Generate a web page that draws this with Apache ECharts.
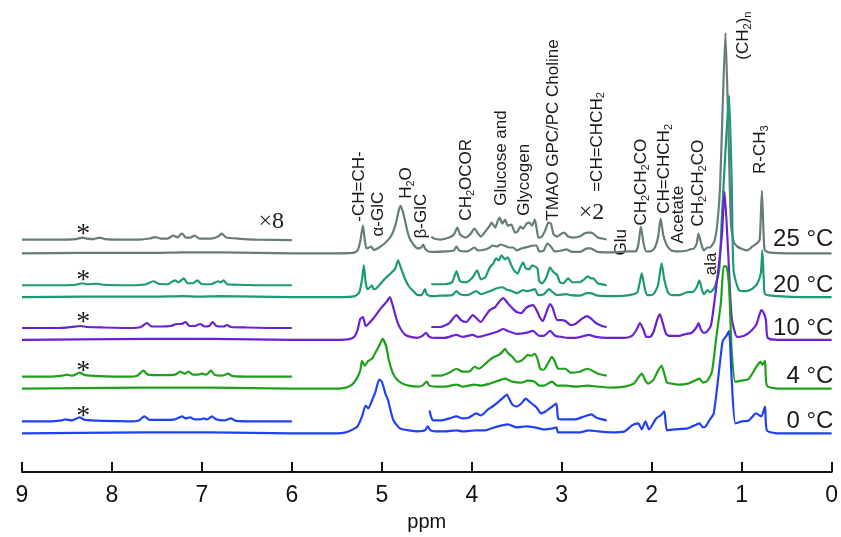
<!DOCTYPE html>
<html>
<head>
<meta charset="utf-8">
<script src="https://cdn.jsdelivr.net/npm/echarts@6/dist/echarts.min.js"></script>
<style>
html, body { margin: 0; padding: 0; background: #fff; }
#nmr { width: 841px; height: 537px; }
</style>
</head>
<body>
<div id="nmr"></div>
<script>
// temperatures, top to bottom
var temps = ['25 °C', '20 °C', '10 °C', '4 °C', '0 °C'];

// main spectra, [ppm, intensity]
var main25 = [[9,0],[8.33,0.5],[7.5,0.5],[7.22,1],[6.78,1],[6.0,0],[5.6,0],[5.32,0.5],[5.27,3],[5.24,12],[5.21,28],[5.19,14],[5.17,5],[5.14,6],[5.12,7],[5.09,3.5],[5.03,6],[4.97,10],[4.9,17],[4.85,28],[4.81,44],[4.79,48],[4.76,40],[4.72,24],[4.69,15],[4.64,8],[4.6,5],[4.56,6],[4.54,9],[4.52,5],[4.48,2],[4.4,1.5],[4.3,2],[4.2,3],[4.17,7],[4.14,3],[4.05,2],[3.97,6],[3.93,3],[3.85,4],[3.8,6],[3.77,8],[3.72,7],[3.68,9],[3.64,8],[3.58,6],[3.54,6],[3.5,3],[3.45,5],[3.36,7],[3.32,8],[3.28,8],[3.25,2],[3.2,3],[3.16,10],[3.12,7],[3.08,2],[3.0,3],[2.95,4],[2.88,1.5],[2.8,1.5],[2.72,5],[2.68,5],[2.6,1.5],[2.45,1],[2.35,1.5],[2.25,2],[2.18,2],[2.15,8],[2.12,27],[2.09,10],[2.06,2],[2.02,2],[1.97,5],[1.93,16],[1.9,35],[1.87,18],[1.83,8],[1.78,3],[1.7,2],[1.6,3],[1.58,4],[1.53,5],[1.5,10],[1.48,20],[1.45,10],[1.42,3],[1.38,6],[1.35,6],[1.33,8],[1.30,13],[1.27,30],[1.24,67],[1.21,150],[1.18,222],[1.15,133],[1.12,33],[1.09,12],[1.05,7],[0.94,3],[0.88,7],[0.82,11],[0.8,14],[0.79,30],[0.775,63],[0.76,30],[0.745,4],[0.7,1],[0.4,0],[0,0]];
var main20 = [[9,0],[8.33,0.5],[7.54,0.5],[7.2,1],[7.05,0.5],[6.8,1],[6,0],[5.5,0],[5.3,1],[5.25,5],[5.22,18],[5.2,32],[5.18,15],[5.16,8],[5.13,10],[5.11,12],[5.09,8],[5.06,9],[5.0,15],[4.95,20],[4.9,24],[4.85,29],[4.82,37],[4.79,30],[4.74,18],[4.7,11],[4.66,7],[4.6,2],[4.56,2],[4.52,8],[4.5,3],[4.45,1],[4.35,1.5],[4.22,2],[4.17,6],[4.13,3],[4.05,2],[3.95,6],[3.9,3],[3.8,6],[3.72,9],[3.66,10],[3.62,8],[3.55,6],[3.5,4],[3.43,7],[3.38,6],[3.3,8],[3.26,2],[3.2,3],[3.14,8],[3.1,5],[3.05,2],[2.95,3],[2.9,2],[2.8,1.5],[2.72,4],[2.68,4],[2.6,1.5],[2.4,1],[2.25,2],[2.16,5],[2.11,24],[2.08,10],[2.05,2],[1.98,3],[1.93,12],[1.89,34],[1.86,18],[1.82,5],[1.78,2],[1.7,2],[1.6,5],[1.55,5],[1.5,10],[1.47,17],[1.44,7],[1.42,3],[1.38,7],[1.35,5],[1.3,10],[1.25,27],[1.22,80],[1.18,147],[1.14,203],[1.11,113],[1.09,27],[1.03,7],[0.95,6],[0.89,8],[0.84,12],[0.81,17],[0.785,25],[0.77,47],[0.755,20],[0.74,3],[0.6,1],[0.3,0],[0,0]];
var main10 = [[9,0],[8.35,0.5],[7.6,1],[7.2,1],[6.9,1],[6,0],[5.5,0],[5.35,1],[5.3,4],[5.27,10],[5.24,21],[5.21,23],[5.18,14],[5.15,16],[5.1,21],[5.05,27],[5.0,33],[4.95,38],[4.91,43],[4.88,35],[4.83,19],[4.79,11],[4.74,5],[4.68,3],[4.6,2],[4.55,4],[4.51,7],[4.47,3],[4.4,2],[4.3,2],[4.17,5],[4.1,3],[3.99,5],[3.93,3],[3.8,6],[3.7,9],[3.65,11],[3.6,9],[3.5,6],[3.4,7],[3.32,9],[3.25,4],[3.2,4],[3.13,9],[3.07,4],[3.0,3],[2.93,2],[2.85,2],[2.75,4],[2.7,5],[2.62,3],[2.5,2],[2.3,2],[2.22,4],[2.17,10],[2.13,17],[2.09,10],[2.06,3],[2.02,3],[1.98,8],[1.94,20],[1.91,26],[1.88,18],[1.84,6],[1.8,4],[1.7,4],[1.62,6],[1.56,7],[1.5,13],[1.48,17],[1.45,10],[1.42,7],[1.38,9],[1.34,15],[1.28,55],[1.22,105],[1.19,149],[1.15,88],[1.11,22],[1.05,3],[0.98,4],[0.92,7],[0.84,15],[0.8,26],[0.78,30],[0.75,26],[0.73,20],[0.71,2],[0.6,0],[0,0]];
var main4 = [[9,0],[8.36,0.5],[7.65,1],[7.2,1],[6.9,1],[6,0],[5.5,0],[5.4,1],[5.33,4],[5.28,10],[5.24,18],[5.22,28],[5.19,23],[5.15,28],[5.11,30],[5.06,38],[5.02,45],[4.99,50],[4.95,42],[4.92,28],[4.88,16],[4.84,10],[4.77,5],[4.7,3],[4.6,2],[4.55,3],[4.5,7],[4.47,3],[4.4,2],[4.3,2],[4.17,4],[4.1,2],[3.97,4],[3.9,3],[3.8,5],[3.7,8],[3.63,10],[3.55,7],[3.45,6],[3.38,8],[3.3,7],[3.25,3],[3.2,3],[3.11,7],[3.05,3],[2.95,3],[2.85,2],[2.71,3],[2.6,2],[2.45,1],[2.3,2],[2.2,5],[2.15,11],[2.11,15],[2.07,8],[2.04,5],[1.98,9],[1.93,18],[1.89,23],[1.86,15],[1.83,6],[1.78,5],[1.7,4],[1.6,5],[1.5,9],[1.47,10],[1.43,6],[1.38,8],[1.33,17],[1.28,53],[1.23,87],[1.2,123],[1.17,123],[1.14,103],[1.11,37],[1.07,7],[1.0,8],[0.92,10],[0.83,23],[0.79,27],[0.77,24],[0.74,28],[0.72,3],[0.6,0],[0,0]];
var main0 = [[9,0],[8.36,0.5],[7.64,1],[7.2,1],[6.9,1],[6,0],[5.5,0],[5.4,1],[5.32,4],[5.27,7],[5.22,17],[5.18,28],[5.15,25],[5.11,33],[5.07,42],[5.03,54],[5.0,52],[4.96,40],[4.93,33],[4.9,22],[4.87,13],[4.8,5],[4.7,3],[4.6,2],[4.52,3],[4.49,7],[4.46,3],[4.4,2],[4.3,2],[4.17,3],[4.1,2],[3.95,3],[3.85,3],[3.75,6],[3.6,9],[3.5,6],[3.4,7],[3.3,6],[3.2,4],[3.1,5],[3.06,6],[3.04,1],[2.95,1],[2.8,1],[2.7,3],[2.6,2],[2.45,1],[2.3,2],[2.22,8],[2.15,10],[2.11,4],[2.07,12],[2.03,4],[1.95,15],[1.9,18],[1.86,22],[1.83,3],[1.75,4],[1.6,5],[1.5,9],[1.47,10],[1.43,6],[1.4,7],[1.36,13],[1.31,20],[1.23,80],[1.21,93],[1.17,98],[1.14,103],[1.11,53],[1.07,10],[1.0,12],[0.92,13],[0.84,20],[0.8,18],[0.78,17],[0.74,27],[0.72,3],[0.6,0],[0,0]];

// x8 expansions, 9-6 ppm
var x8_25 = [[9,0],[8.6,0],[8.4,0.5],[8.33,2],[8.28,1],[8.2,0.5],[8.14,2],[8.08,0.5],[7.9,0],[7.7,0],[7.58,1],[7.52,2.5],[7.46,1],[7.38,1],[7.32,4],[7.27,2],[7.24,5],[7.22,6],[7.18,2],[7.13,2],[7.08,4],[7.03,1],[6.9,1],[6.82,3],[6.78,6],[6.73,2],[6.6,1],[6.4,0],[6.0,-0.5]];
var x8_20 = [[9,0],[8.6,0],[8.4,0.5],[8.33,2],[8.28,1],[8.17,1.5],[8.1,0.5],[7.8,0],[7.62,1],[7.54,4],[7.48,1.5],[7.38,1],[7.3,5],[7.26,3],[7.2,7],[7.16,2],[7.1,2],[7.05,5],[7.0,1],[6.9,1],[6.82,4],[6.79,3],[6.76,5],[6.72,1],[6.6,0.5],[6.3,0],[6.0,0]];
var x8_10 = [[9,0],[8.6,0],[8.45,1],[8.35,2],[8.28,1],[8.1,0.5],[7.8,0],[7.68,1],[7.61,5],[7.56,1.5],[7.45,1.5],[7.35,2],[7.28,4],[7.23,4],[7.18,6],[7.14,2],[7.08,2],[7.02,4],[6.97,1.5],[6.92,2],[6.88,6],[6.84,2],[6.76,1.5],[6.72,3],[6.68,1],[6.5,0.5],[6.2,0],[6.0,0]];
var x8_4 = [[9,0],[8.7,0],[8.55,1],[8.5,2],[8.44,1],[8.36,4],[8.3,1.5],[8.15,0.5],[7.8,0],[7.72,1],[7.65,6],[7.6,2],[7.45,1.5],[7.3,2],[7.24,5],[7.19,3],[7.15,5],[7.1,2],[7.05,2],[7.0,3],[6.95,2],[6.9,6],[6.86,2],[6.78,1],[6.71,3],[6.66,0.5],[6.4,0],[6.0,0]];
var x8_0 = [[9,0],[8.7,0],[8.56,1],[8.52,2],[8.45,1],[8.36,4],[8.3,1.5],[8.1,0.5],[7.8,0],[7.7,1],[7.64,5],[7.58,1.5],[7.4,1.5],[7.3,2],[7.22,5],[7.18,3],[7.13,4],[7.08,2],[7.02,2],[6.98,3],[6.94,2],[6.89,5],[6.84,2],[6.75,1],[6.68,3],[6.62,0.5],[6.4,0],[6.0,0]];

// x2 expansions, 4.45-2.5 ppm
var x2_25 = [[4.45,3],[4.42,1],[4.35,0],[4.25,2],[4.2,5],[4.16,12],[4.13,5],[4.07,2],[4.02,5],[3.97,11],[3.93,6],[3.9,3],[3.85,8],[3.8,14],[3.78,17],[3.74,12],[3.71,19],[3.69,22],[3.66,16],[3.63,20],[3.6,14],[3.56,15],[3.52,7],[3.49,8],[3.46,13],[3.43,11],[3.39,16],[3.36,17],[3.33,14],[3.3,20],[3.28,12],[3.26,2],[3.22,3],[3.18,10],[3.15,17],[3.12,16],[3.09,5],[3.05,3],[3.0,6],[2.97,7],[2.93,3],[2.88,2],[2.8,3],[2.75,6],[2.71,7],[2.68,7],[2.65,6],[2.6,2],[2.55,1],[2.5,0]];
var x2_20 = [[4.45,1],[4.3,1],[4.22,3],[4.17,14],[4.13,4],[4.06,3],[3.99,8],[3.94,15],[3.9,6],[3.85,8],[3.8,18],[3.76,22],[3.73,27],[3.7,25],[3.67,30],[3.63,26],[3.6,28],[3.56,20],[3.53,15],[3.49,12],[3.46,18],[3.43,23],[3.4,17],[3.36,16],[3.33,20],[3.3,19],[3.27,17],[3.25,4],[3.22,2],[3.17,8],[3.13,18],[3.1,14],[3.05,10],[3.02,3],[2.98,2],[2.93,7],[2.88,3],[2.8,3],[2.75,6],[2.71,9],[2.68,7],[2.65,7],[2.6,2],[2.5,0]];
var x2_10 = [[4.45,1],[4.35,1],[4.25,5],[4.17,13],[4.12,8],[4.06,6],[3.99,13],[3.94,9],[3.9,6],[3.85,12],[3.8,18],[3.74,21],[3.7,26],[3.65,30],[3.6,25],[3.55,20],[3.5,16],[3.45,15],[3.4,20],[3.36,22],[3.32,23],[3.28,18],[3.24,10],[3.21,7],[3.17,16],[3.13,24],[3.1,20],[3.05,8],[3.0,8],[2.96,7],[2.9,3],[2.85,4],[2.78,9],[2.72,12],[2.68,10],[2.62,5],[2.55,2],[2.5,1]];
var x2_4 = [[4.45,1],[4.35,1],[4.25,4],[4.17,8],[4.1,5],[4.03,5],[3.97,10],[3.92,8],[3.86,12],[3.8,17],[3.75,20],[3.7,22],[3.66,25],[3.63,28],[3.6,24],[3.55,20],[3.5,15],[3.45,16],[3.4,20],[3.38,22],[3.34,21],[3.3,23],[3.27,18],[3.24,8],[3.2,7],[3.15,14],[3.11,20],[3.08,16],[3.04,8],[3.0,8],[2.96,8],[2.9,4],[2.8,5],[2.75,7],[2.71,8],[2.66,6],[2.6,3],[2.5,1]];
var x2_0 = [[4.47,11],[4.45,4],[4.43,1],[4.35,1],[4.25,3],[4.17,5],[4.1,3],[4.03,4],[3.95,8],[3.9,6],[3.82,12],[3.77,15],[3.7,20],[3.65,24],[3.61,27],[3.58,22],[3.55,17],[3.5,15],[3.45,18],[3.4,23],[3.36,20],[3.32,17],[3.28,14],[3.23,8],[3.18,10],[3.12,14],[3.06,18],[3.04,3],[2.98,2],[2.9,2],[2.85,2],[2.75,5],[2.67,7],[2.62,4],[2.55,2],[2.5,1]];

// peak assignments (rotated text), ppm and height of text start
var peakLabels = ['-CH=CH-', 'α-GlC', 'H₂O', 'β-GlC', 'CH₂OCOR', 'Glucose and', 'Glycogen', 'TMAO GPC/PC Choline', '=CH=CHCH₂', 'Glu', 'CH₂CH₂CO', 'CH=CHCH₂', 'Acetate', 'CH₂CH₂CO', 'ala', '(CH₂)ₙ', 'R-CH₃'];
var peakLabelPpm = [5.25, 5.04, 4.73, 4.56, 4.06, 3.67, 3.42, 3.09, 2.61, 2.34, 2.11, 1.86, 1.70, 1.48, 1.34, 0.98, 0.79];
var peakLabelBase = [252, 237, 275, 235, 253, 268, 258, 253, 282, 218, 248, 260, 230, 247, 198, 415, 300];

var mains = [main25, main20, main10, main4, main0];
var x8s = [x8_25, x8_20, x8_10, x8_4, x8_0];
var x2s = [x2_25, x2_20, x2_10, x2_4, x2_0];
var colors = ['#667d7a', '#1c9a78', '#6a22d4', '#1fa01a', '#2142f4'];
// stacking offsets
var mainOffset = [220, 176, 133, 84, 39];
var insetOffset = [234, 188, 145, 96, 51];

var chartDom = document.getElementById('nmr');
var myChart = echarts.init(chartDom);
var option;

function shift(arr, off) {
    return arr.map(function (p) { return [p[0], p[1] + off]; });
}

// unicode subscripts -> rich text tokens
function richSub(txt) {
    return txt.replace(/₂/g, '{s|2}').replace(/₃/g, '{s|3}').replace(/ₙ/g, '{s|n}');
}

var series = [];
temps.forEach(function (t, i) {
    [[mains[i], mainOffset[i]], [x8s[i], insetOffset[i]], [x2s[i], insetOffset[i]]].forEach(function (s) {
        series.push({
            type: 'line',
            name: t,
            data: shift(s[0], s[1]),
            symbol: 'none',
            silent: true,
            smooth: 0.2,
            lineStyle: { color: colors[i], width: 2.2 },
            z: 2 + i
        });
    });
});

option = {
    animation: false,
    grid: { left: 22, right: 8, top: 0, bottom: 62 },
    xAxis: {
        type: 'value',
        min: 0,
        max: 9,
        interval: 1,
        inverse: true,
        name: 'ppm',
        nameLocation: 'middle',
        nameGap: 38,
        nameTextStyle: { fontSize: 20, color: '#111', fontFamily: 'Liberation Sans' },
        axisLine: { lineStyle: { color: '#111', width: 2 } },
        axisTick: { inside: true, length: 10, lineStyle: { color: '#111', width: 2 } },
        axisLabel: { fontSize: 23, color: '#111', margin: 12, fontFamily: 'Liberation Sans' },
        splitLine: { show: false }
    },
    yAxis: { type: 'value', min: 0, max: 475, show: false },
    series: series
};

option && myChart.setOption(option);

function labels() {
    var g = [];
    var conv = function (x, y) { return myChart.convertToPixel({ gridIndex: 0 }, [x, y]); };
    peakLabels.forEach(function (txt, i) {
        var p = conv(peakLabelPpm[i], peakLabelBase[i]);
        g.push({
            type: 'text', x: p[0], y: p[1], rotation: Math.PI / 2,
            style: {
                text: richSub(txt), fontSize: 17, lineHeight: 20, fontFamily: 'Liberation Sans', fill: '#1a1a1a',
                align: 'left', verticalAlign: 'middle',
                rich: { s: { fontSize: 11, lineHeight: 11, verticalAlign: 'bottom', fontFamily: 'Liberation Sans', fill: '#1a1a1a' } }
            }
        });
    });
    temps.forEach(function (t, i) {
        var p = conv(-0.02, insetOffset[i]);
        g.push({
            type: 'text', x: p[0], y: p[1],
            style: { text: t, fontSize: 24, fontFamily: 'Liberation Sans', fill: '#1a1a1a', align: 'right', verticalAlign: 'middle' }
        });
        var a = conv(8.32, insetOffset[i] + 5);
        g.push({
            type: 'text', x: a[0], y: a[1],
            style: { text: '*', fontSize: 28, fontFamily: 'Liberation Serif', fill: '#1a1a1a', align: 'center', verticalAlign: 'middle' }
        });
    });
    var m8 = conv(6.23, 252), m2 = conv(2.67, 261);
    g.push({ type: 'text', x: m8[0], y: m8[1], style: { text: '×8', fontSize: 24, fontFamily: 'Liberation Serif', fill: '#1a1a1a', align: 'center', verticalAlign: 'middle' } });
    g.push({ type: 'text', x: m2[0], y: m2[1], style: { text: '×2', fontSize: 24, fontFamily: 'Liberation Serif', fill: '#1a1a1a', align: 'center', verticalAlign: 'middle' } });
    myChart.setOption({ graphic: g }, { replaceMerge: ['graphic'] });
}
labels();

window.addEventListener("resize", function () {
    myChart.resize();
    labels();
})
</script>
</body>
</html>
